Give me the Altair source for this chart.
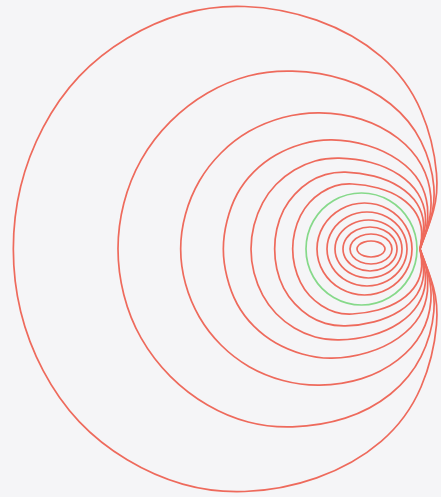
import altair as alt
import pandas as pd

# Upper halves of the loops (pixel units, y downwards).
# Outer loops run from the left crossing over the top to the pinch point.
c1_x = [11, 18, 41, 77, 126, 182, 242, 318, 386, 425, 440, 434, 425, 420]
c1_y = [249, 186, 126, 74, 36, 11, 3, 16, 54, 108, 180, 212, 235, 249]
c2_x = [116, 122, 139, 169, 207, 248, 290, 347, 393, 424, 437, 431, 424, 420]
c2_y = [249, 203, 159, 120, 91, 74, 69, 77, 102, 139, 190, 220, 238, 249]
c3_x = [179, 184, 198, 220, 248, 283, 318, 363, 400, 424, 433, 429, 423, 420]
c3_y = [249, 214, 180, 152, 130, 116, 111, 117, 137, 164, 198, 224, 240, 249]
c4_x = [222, 226, 236, 253, 275, 302, 330, 369, 400, 422, 429, 427, 422, 420]
c4_y = [249, 221, 193, 171, 154, 143, 138, 144, 159, 181, 208, 230, 242, 249]
c5_x = [250, 253, 262, 275, 294, 315, 337, 372, 401, 420, 427, 424, 420]
c5_y = [249, 225, 202, 184, 169, 160, 157, 161, 174, 193, 216, 234, 249]
c6_x = [274, 276, 283, 294, 309, 325, 343, 375, 401, 419, 425, 422, 420]
c6_y = [249, 229, 209, 194, 181, 174, 171, 175, 186, 203, 224, 238, 249]
c7_x = [292, 294, 300, 309, 321, 335, 350, 379, 402, 418, 423, 420]
c7_y = [249, 232, 215, 202, 192, 185, 183, 187, 197, 213, 232, 249]

# Inner closed rings: left crossing over the top to the right crossing.
c8_x = [306, 313.4, 333.7, 361.5, 389.3, 409.6, 417]
c8_y = [249, 221, 200.5, 193, 200.5, 221, 249]
c9_x = [317, 323.4, 340.8, 364.5, 388.3, 405.6, 412]
c9_y = [249, 226, 209.2, 203, 209.2, 226, 249]
c10_x = [327, 332.4, 347, 367, 387, 401.6, 407]
c10_y = [249, 230.5, 217, 212, 217, 230.5, 249]
c11_x = [335, 339.5, 351.8, 368.5, 385.3, 397.5, 402]
c11_y = [249, 234.5, 223.9, 220, 223.9, 234.5, 249]
c12_x = [343, 346.6, 356.5, 370, 383.5, 393.4, 397]
c12_y = [249, 238, 230, 227, 230, 238, 249]
c13_x = [350, 352.8, 360.5, 371, 381.5, 389.2, 392]
c13_y = [249, 241.5, 236, 234, 236, 241.5, 249]
c14_x = [357, 358.9, 364, 371, 378, 383.1, 385]
c14_y = [249, 245, 242.1, 241, 242.1, 245, 249]

MIRROR = 498  # loops are symmetric about y = 249

outer = [("c1", c1_x, c1_y), ("c2", c2_x, c2_y), ("c3", c3_x, c3_y),
         ("c4", c4_x, c4_y), ("c5", c5_x, c5_y), ("c6", c6_x, c6_y),
         ("c7", c7_x, c7_y)]
inner = [("c8", c8_x, c8_y), ("c9", c9_x, c9_y), ("c10", c10_x, c10_y),
         ("c11", c11_x, c11_y), ("c12", c12_x, c12_y), ("c13", c13_x, c13_y),
         ("c14", c14_x, c14_y)]
kinds = {"c8": "green"}

rows_o = []
for name, xs, ys in outer:
    pts = list(zip(xs, ys))
    seq = pts[::-1] + [(x, MIRROR - y) for x, y in pts[1:]]
    for i, (x, y) in enumerate(seq):
        rows_o.append({"curve": name, "i": i, "x": x, "y": y, "kind": kinds.get(name, "red")})

rows_i = []
for name, xs, ys in inner:
    pts = list(zip(xs, ys))
    seq = pts + [(x, MIRROR - y) for x, y in pts[-2:0:-1]]
    for i, (x, y) in enumerate(seq):
        rows_i.append({"curve": name, "i": i, "x": x, "y": y, "kind": kinds.get(name, "red")})

xs_ = alt.Scale(domain=[0, 441], nice=False, zero=False)
ys_ = alt.Scale(domain=[0, 497], nice=False, zero=False, reverse=True)
col = alt.Scale(domain=["red", "green"], range=["#ee6a5c", "#86d98a"])

def layer(rows, interp):
    return alt.Chart(pd.DataFrame(rows)).mark_line(
        interpolate=interp, strokeWidth=1.7, clip=True
    ).encode(
        x=alt.X("x:Q", scale=xs_, axis=None),
        y=alt.Y("y:Q", scale=ys_, axis=None),
        detail="curve:N",
        order="i:Q",
        color=alt.Color("kind:N", scale=col, legend=None),
    )

chart = alt.layer(layer(rows_o, "basis"), layer(rows_i, "cardinal-closed")).properties(
    width=441, height=497, padding=0, autosize="none", background="#f5f5f7"
).configure_view(stroke=None)

chart.save("out.html", embed_options={"renderer": "svg", "actions": False})
